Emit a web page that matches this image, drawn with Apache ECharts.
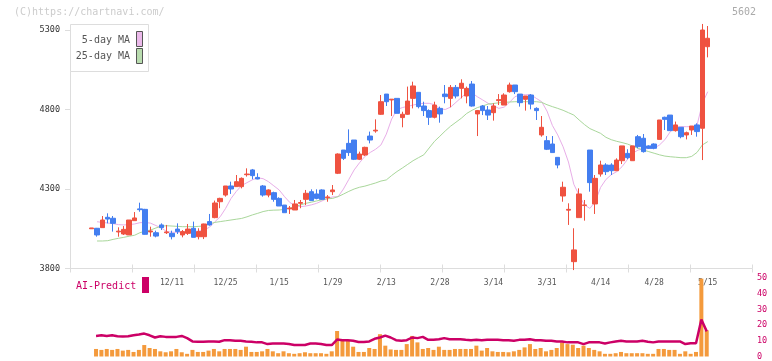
<!DOCTYPE html>
<html><head><meta charset="utf-8">
<script src="https://cdn.jsdelivr.net/npm/echarts@6/dist/echarts.min.js"></script>
<style>html,body{margin:0;padding:0;background:#fff}#c{width:772px;height:361px}</style>
</head><body><div id="c"></div>
<script>
const dates = ['11/20','11/21','11/22','11/25','11/26','11/27','11/28','11/29',
'12/2','12/3','12/4','12/5','12/6','12/9','12/10','12/11','12/12','12/13','12/16','12/17','12/18','12/19','12/20','12/23','12/24','12/25','12/26','12/27','12/30',
'1/6','1/7','1/8','1/9','1/10','1/14','1/15','1/16','1/17','1/20','1/21','1/22','1/23','1/24','1/27','1/28','1/29','1/30','1/31',
'2/3','2/4','2/5','2/6','2/7','2/10','2/12','2/13','2/14','2/17','2/18','2/19','2/20','2/21','2/25','2/26','2/27','2/28',
'3/3','3/4','3/5','3/6','3/7','3/10','3/11','3/12','3/13','3/14','3/17','3/18','3/19','3/21','3/24','3/25','3/26','3/27','3/28','3/31',
'4/1','4/2','4/3','4/4','4/7','4/8','4/9','4/10','4/11','4/14','4/15','4/16','4/17','4/18','4/21','4/22','4/23','4/24','4/25','4/28','4/30',
'5/1','5/2','5/7','5/8','5/9','5/12','5/13','5/14','5/15'];
const tickDates = ['12/11','12/25','1/15','1/29','2/13','2/28','3/14','3/31','4/14','4/28','5/15'];
const priceTicks = [3800, 4300, 4800, 5300];

const opens = [4050,4053,4057,4122,4116,4030,4017,4011,4101,4175,4172,4030,4025,4074,4025,4021,4048,4011,4021,4053,4000,4000,4095,4120,4220,4262,4319,4315,4315,4390,4420,4373,4319,4262,4277,4241,4199,4175,4168,4210,4235,4283,4269,4294,4245,4283,4399,4545,4587,4608,4487,4514,4633,4665,4770,4897,4860,4870,4749,4770,4870,4908,4822,4793,4751,4807,4897,4870,4939,4933,4885,4960,4772,4822,4797,4780,4856,4828,4912,4954,4897,4864,4891,4807,4640,4604,4583,4499,4256,4167,3843,4120,4196,4545,4206,4394,4451,4451,4415,4478,4524,4478,4629,4619,4571,4583,4612,4751,4765,4667,4688,4640,4671,4703,4682,5195];
const closes = [4055,4011,4105,4111,4084,4035,4046,4105,4118,4170,4015,4036,4004,4057,4030,4000,4032,4032,4048,3996,4032,4080,4074,4212,4241,4319,4300,4346,4367,4394,4384,4363,4262,4294,4235,4193,4151,4180,4206,4215,4273,4227,4241,4235,4250,4294,4520,4493,4529,4487,4520,4562,4608,4670,4849,4849,4865,4776,4770,4853,4948,4818,4793,4751,4828,4772,4881,4939,4885,4965,4933,4822,4793,4793,4765,4822,4862,4891,4954,4912,4843,4885,4834,4793,4688,4550,4529,4451,4311,4172,3917,4269,4200,4340,4367,4451,4409,4415,4482,4571,4497,4571,4566,4535,4556,4556,4734,4738,4667,4703,4629,4654,4696,4661,5300,5248];
const lows = [4050,4000,4057,4084,4032,4000,4011,4011,4101,4157,4013,4000,3996,4042,4017,3983,4017,3996,4011,3996,3983,3985,4069,4116,4179,4252,4269,4315,4304,4378,4361,4361,4252,4248,4220,4193,4151,4143,4168,4179,4199,4227,4235,4231,4220,4262,4394,4482,4508,4482,4482,4508,4587,4654,4766,4822,4759,4776,4688,4766,4807,4807,4759,4703,4744,4717,4839,4814,4870,4870,4839,4818,4633,4765,4734,4730,4828,4828,4906,4897,4818,4793,4801,4734,4629,4545,4529,4430,4220,4074,3790,4120,4101,4283,4143,4378,4388,4388,4415,4457,4487,4478,4556,4529,4552,4550,4612,4671,4667,4661,4619,4612,4640,4629,4482,5128];
const highs = [4055,4055,4130,4147,4130,4059,4067,4105,4155,4214,4175,4063,4038,4084,4074,4038,4084,4042,4080,4095,4053,4082,4143,4227,4245,4319,4346,4388,4373,4430,4426,4399,4325,4298,4283,4248,4199,4193,4231,4231,4294,4298,4298,4298,4262,4325,4524,4545,4675,4608,4535,4566,4661,4738,4891,4897,4865,4870,4786,4944,4975,4908,4849,4801,4849,4818,4954,4954,4954,4990,4944,4979,4797,4828,4822,4839,4897,4902,4969,4954,4897,4885,4897,4814,4759,4633,4633,4499,4346,4210,4053,4304,4231,4545,4388,4478,4462,4462,4493,4571,4550,4571,4640,4646,4575,4587,4734,4755,4765,4724,4688,4661,4696,4713,5338,5325];

const ma5 = [null,4094,4090,4086,4082,4076,4074,4076,4080,4088,4090,4085,4070,4055,4032,4028,4028,4028,4030,4032,4036,4042,4060,4094,4126,4178,4240,4285,4322,4340,4358,4370,4365,4346,4320,4294,4252,4215,4195,4189,4193,4200,4210,4225,4241,4250,4252,4300,4360,4420,4465,4505,4530,4550,4577,4645,4740,4800,4812,4820,4828,4835,4839,4839,4830,4805,4800,4815,4845,4875,4906,4904,4880,4860,4839,4825,4807,4815,4845,4880,4893,4893,4893,4870,4849,4790,4700,4640,4566,4470,4330,4260,4200,4178,4220,4310,4360,4390,4409,4440,4485,4525,4545,4552,4555,4556,4577,4610,4660,4690,4692,4692,4692,4700,4839,4912];
const ma25 = [null,3973,3973,3975,3983,3990,3996,4003,4009,4025,4035,4042,4055,4066,4069,4067,4065,4063,4063,4063,4065,4068,4080,4090,4095,4100,4105,4110,4115,4125,4137,4147,4158,4165,4167,4168,4172,4180,4190,4200,4210,4217,4225,4232,4238,4241,4252,4268,4285,4300,4311,4318,4328,4338,4350,4357,4385,4410,4432,4455,4478,4497,4515,4558,4600,4632,4665,4695,4720,4745,4775,4795,4812,4822,4834,4838,4842,4845,4847,4849,4849,4849,4849,4849,4845,4830,4818,4807,4795,4780,4765,4734,4705,4680,4665,4650,4625,4610,4600,4592,4583,4570,4556,4545,4535,4525,4515,4507,4503,4500,4497,4497,4505,4530,4577,4598];

const aiBars = [null,4.8,4.2,4.8,4.2,4.8,3.75,4.2,2.9,4.2,7.3,5.4,4.8,3.3,2.7,3.3,4.8,2.7,1.7,4.2,2.9,2.9,3.75,4.8,3.3,4.8,4.8,4.8,4.2,6.25,2.9,2.9,3.3,4.8,3.3,2.1,3.3,2.1,1.7,2.1,2.7,2.1,2.1,2.1,1.7,3.3,16.25,10,10,6.25,2.9,2.9,5.4,4.8,14.2,6.9,4.5,4.2,4.2,7.9,13.1,9,4.8,5.4,4.2,6.25,4.2,4.2,4.8,4.8,4.8,4.8,6.9,3.75,5.4,3.3,2.9,2.9,2.7,3.3,4.2,5.8,7.9,4.8,5.4,3.3,4.2,5.4,9,7.9,7.5,5.4,6.9,5.4,4.2,3.3,1.7,1.7,2.1,2.9,2.1,2.1,2.1,2.1,1.7,1.7,4.8,4.8,4.2,4.2,1.7,3.3,1.7,2.9,49.6,16.7];
const aiLine = [null,13.1,13.5,13.1,13.5,12.9,12.7,12.9,13.5,14.0,14.6,13.5,12.1,12.9,12.5,12.5,12.5,13.1,11.7,9.6,9.4,9.4,9.6,9.6,9.4,10.4,10.4,10.0,10.0,9.6,9.4,9.0,9.0,7.9,8.3,8.3,8.3,7.9,7.3,7.3,7.3,8.3,8.3,7.9,7.3,7.3,10.8,10.4,10.4,10.0,9.2,9.2,9.6,11.25,12.1,13.3,12.1,10.4,10.0,10.4,12.1,11.7,12.5,10.6,10.6,11.0,11.7,11.0,11.0,11.0,10.6,10.4,10.6,10.4,10.6,10.6,10.6,10.4,10.4,10.0,10.6,10.6,11.0,10.4,10.4,10.0,10.0,9.6,9.6,9.0,9.0,9.0,7.9,9.0,9.0,9.0,8.3,9.0,9.6,10.0,9.6,9.6,9.6,10.0,9.4,9.0,9.6,9.6,9.6,9.6,9.6,7.9,8.5,8.5,23.5,16.0];

const RED = '#ef5240', BLUE = '#437ef0', GRID = '#dddddd';
const MONO = 'DejaVu Sans Mono';
const candles = dates.map((d, i) => [opens[i], closes[i], lows[i], highs[i]]);

const chart = echarts.init(document.getElementById('c'), null, {renderer: 'canvas'});
chart.setOption({
  animation: false,
  backgroundColor: '#fff',
  grid: [
    {left: 70, top: 30, width: 682, height: 238.5},
    {left: 89, top: 30, width: 621.4, height: 238.5},
    {left: 88, top: 278, width: 621.4, height: 80}
  ],
  xAxis: [
    {gridIndex: 0, type: 'value', position: 'bottom', min: 0, max: 11, interval: 1,
     axisLine: {lineStyle: {color: GRID}}, axisTick: {length: 4, lineStyle: {color: GRID}},
     axisLabel: {show: false}, splitLine: {show: false}},
    {gridIndex: 0, type: 'value', position: 'bottom', min: 0, max: 11, interval: 1,
     axisLine: {show: false}, axisTick: {inside: true, length: 4, lineStyle: {color: GRID}},
     axisLabel: {show: false}, splitLine: {show: false}},
    {gridIndex: 1, type: 'category', position: 'bottom', data: dates, boundaryGap: true,
     axisLine: {show: false}, axisTick: {show: false}, splitLine: {show: false},
     axisLabel: {interval: (i, v) => tickDates.includes(v), color: '#555', fontFamily: MONO, fontSize: 8, margin: 10}},
    {gridIndex: 2, type: 'category', data: dates, boundaryGap: true, show: false}
  ],
  yAxis: [
    {gridIndex: 0, type: 'value', min: priceTicks[0], max: priceTicks[priceTicks.length-1], interval: 500,
     axisLine: {show: true, lineStyle: {color: GRID}}, axisTick: {show: true, length: 5, lineStyle: {color: GRID}},
     axisLabel: {color: '#333', fontFamily: MONO, fontSize: 8.5, margin: 10, formatter: v => String(v)}, splitLine: {show: false}},
    {gridIndex: 1, type: 'value', min: 3800, max: 5300, show: false, splitLine: {show: false}},
    {gridIndex: 2, type: 'value', min: 0, max: 50, interval: 10, position: 'right', offset: 42.6,
     axisLine: {show: false}, axisTick: {show: false}, splitLine: {show: false},
     axisLabel: {color: '#cc0066', fontFamily: MONO, fontSize: 8.5, margin: 5}}
  ],
  series: [
    {type: 'candlestick', xAxisIndex: 2, yAxisIndex: 1, data: candles, barWidth: 5, clip: false,
     itemStyle: {color: RED, color0: BLUE, borderColor: RED, borderColor0: BLUE, borderWidth: 1}},
    {type: 'line', xAxisIndex: 2, yAxisIndex: 1, data: ma5, symbol: 'none', lineStyle: {color: '#e8aee8', width: 1}, z: 1},
    {type: 'line', xAxisIndex: 2, yAxisIndex: 1, data: ma25, symbol: 'none', lineStyle: {color: '#a9d79b', width: 1}, z: 1},
    {type: 'bar', xAxisIndex: 3, yAxisIndex: 2, data: aiBars, barWidth: 4, itemStyle: {color: '#f49a3c'}},
    {type: 'line', xAxisIndex: 3, yAxisIndex: 2, data: aiLine, symbol: 'none', lineStyle: {color: '#cc0066', width: 2.5}, z: 3}
  ],
  graphic: [
    {type: 'text', left: 14, top: 7, style: {text: '(C)https://chartnavi.com/', fill: '#cccccc', font: '10px "DejaVu Sans Mono"'}},
    {type: 'text', right: 16, top: 7, style: {text: '5602', fill: '#aaaaaa', font: '10px "DejaVu Sans Mono"'}},
    {type: 'rect', shape: {x: 70.5, y: 24.5, width: 78, height: 47}, style: {fill: '#fff', stroke: '#dddddd', lineWidth: 1}, z: 10},
    {type: 'text', x: 130, y: 40, style: {text: '5-day MA', fill: '#555', font: '10px "DejaVu Sans Mono"', textAlign: 'right', textVerticalAlign: 'middle'}, z: 11},
    {type: 'text', x: 130, y: 56, style: {text: '25-day MA', fill: '#555', font: '10px "DejaVu Sans Mono"', textAlign: 'right', textVerticalAlign: 'middle'}, z: 11},
    {type: 'rect', shape: {x: 136.5, y: 31.5, width: 6, height: 15}, style: {fill: '#ebb9ea', stroke: '#555', lineWidth: 1}, z: 11},
    {type: 'rect', shape: {x: 136.5, y: 48.5, width: 6, height: 15}, style: {fill: '#b9dcaf', stroke: '#555', lineWidth: 1}, z: 11},
    {type: 'text', x: 76, y: 286, style: {text: 'AI-Predict', fill: '#cc0066', font: '10px "DejaVu Sans Mono"', textVerticalAlign: 'middle'}},
    {type: 'rect', shape: {x: 142, y: 277, width: 7, height: 16}, style: {fill: '#cc0066'}}
  ]
});
</script></body></html>
